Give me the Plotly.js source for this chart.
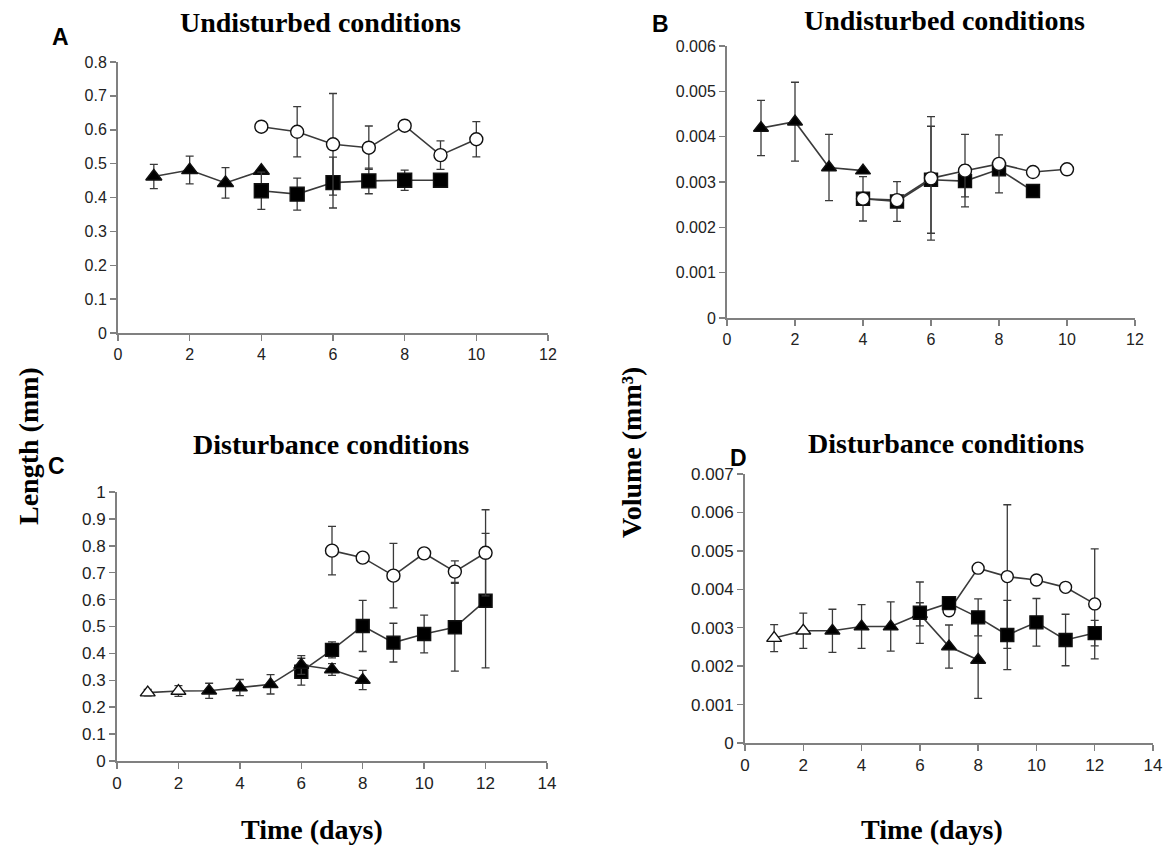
<!DOCTYPE html>
<html>
<head>
<meta charset="utf-8">
<script src="https://cdn.plot.ly/plotly-3.0.1.min.js"></script>
<style>html,body{margin:0;padding:0;background:#fff;}#chart{width:1166px;height:847px;}</style>
</head>
<body>
<div id="chart"></div>
<script>
// ---------- Data ----------
// Panel A: Length, undisturbed
var A_tri_x = [1, 2, 3, 4];
var A_tri_y = [0.462, 0.481, 0.443, 0.479];
var A_tri_e = [0.036, 0.041, 0.045, 0];
var A_sq_x = [4, 5, 6, 7, 8, 9];
var A_sq_y = [0.420, 0.410, 0.444, 0.449, 0.451, 0.451];
var A_sq_e = [0.055, 0.047, 0.075, 0.038, 0.030, 0];
var A_ci_x = [4, 5, 6, 7, 8, 9, 10];
var A_ci_y = [0.609, 0.594, 0.557, 0.547, 0.612, 0.525, 0.572];
var A_ci_e = [0, 0.074, 0.150, 0.064, 0, 0.042, 0.052];

// Panel B: Volume, undisturbed
var B_tri_x = [1, 2, 3, 4];
var B_tri_y = [0.00419, 0.00433, 0.00332, 0.00325];
var B_tri_e = [0.00061, 0.00087, 0.00073, 0];
var B_sq_x = [4, 5, 6, 7, 8, 9];
var B_sq_y = [0.00263, 0.00257, 0.00305, 0.00302, 0.00328, 0.00280];
var B_sq_e = [0.00049, 0.00044, 0.00118, 0.00035, 0, 0];
var B_ci_x = [4, 5, 6, 7, 8, 9, 10];
var B_ci_y = [0.00263, 0.00260, 0.00308, 0.00325, 0.00340, 0.00322, 0.00328];
var B_ci_e = [0, 0, 0.00136, 0.00080, 0.00064, 0, 0];

// Panel C: Length, disturbance
var C_tri_x = [1, 2, 3, 4, 5, 6, 7, 8];
var C_tri_y = [0.254, 0.260, 0.261, 0.273, 0.285, 0.357, 0.340, 0.301];
var C_tri_e = [0.012, 0.020, 0.028, 0.030, 0.036, 0.035, 0.022, 0.036];
var C_sq_x = [6, 7, 8, 9, 10, 11, 12];
var C_sq_y = [0.332, 0.413, 0.502, 0.440, 0.472, 0.497, 0.596];
var C_sq_e = [0.050, 0.030, 0.095, 0.072, 0.070, 0.163, 0.250];
var C_ci_x = [7, 8, 9, 10, 11, 12];
var C_ci_y = [0.782, 0.756, 0.689, 0.772, 0.704, 0.774];
var C_ci_e = [0.090, 0, 0.120, 0, 0.040, 0.160];

// Panel D: Volume, disturbance
var D_tri_x = [1, 2, 3, 4, 5, 6, 7, 8];
var D_tri_y = [0.00273, 0.00292, 0.00292, 0.00303, 0.00303, 0.00335, 0.00251, 0.00216];
var D_tri_e = [0.00035, 0.00046, 0.00056, 0.00057, 0.00064, 0.00030, 0.00056, 0.00100];
var D_sq_x = [6, 7, 8, 9, 10, 11, 12];
var D_sq_y = [0.00339, 0.00364, 0.00327, 0.00281, 0.00314, 0.00268, 0.00286];
var D_sq_e = [0.00080, 0, 0.00048, 0.00090, 0.00062, 0.00067, 0.00033];
var D_ci_x = [7, 8, 9, 10, 11, 12];
var D_ci_y = [0.00344, 0.00455, 0.00433, 0.00424, 0.00405, 0.00362];
var D_ci_e = [0, 0, 0.00187, 0, 0, 0.00143];

// Days on which the triangle series is drawn open (white)
var openTriangleDays = [1, 2];

// ---------- Styling ----------
var W = 1166, H = 847;
function px(x) { return x / W; }
function py(y) { return 1 - y / H; }
var LINE = '#3a3a3a';
var AXIS = '#808080';

function series(xs, ys, es, sym, fill, xa, ya, size) {
  return {
    x: xs, y: ys, xaxis: xa, yaxis: ya,
    type: 'scatter', mode: 'lines+markers', cliponaxis: false,
    line: {color: LINE, width: 1.6},
    marker: {symbol: sym, size: size, color: fill, line: {color: '#111', width: 1.4}},
    error_y: {type: 'data', array: es, visible: true, color: LINE, thickness: 1.3, width: 4},
    showlegend: false, hoverinfo: 'x+y'
  };
}
function triFill(xs) {
  return xs.map(function (d) { return openTriangleDays.indexOf(d) >= 0 ? '#ffffff' : '#000000'; });
}

var traces = [
  // A
  series(A_tri_x, A_tri_y, A_tri_e, 'triangle-up', '#000', 'x', 'y', 14),
  series(A_sq_x, A_sq_y, A_sq_e, 'square', '#000', 'x', 'y', 14),
  series(A_ci_x, A_ci_y, A_ci_e, 'circle', '#fff', 'x', 'y', 13),
  // B
  series(B_tri_x, B_tri_y, B_tri_e, 'triangle-up', '#000', 'x2', 'y2', 13),
  series(B_sq_x, B_sq_y, B_sq_e, 'square', '#000', 'x2', 'y2', 13),
  series(B_ci_x, B_ci_y, B_ci_e, 'circle', '#fff', 'x2', 'y2', 13),
  // C (triangles above squares)
  series(C_sq_x, C_sq_y, C_sq_e, 'square', '#000', 'x3', 'y3', 13),
  series(C_tri_x, C_tri_y, C_tri_e, 'triangle-up', triFill(C_tri_x), 'x3', 'y3', 13),
  series(C_ci_x, C_ci_y, C_ci_e, 'circle', '#fff', 'x3', 'y3', 13),
  // D (squares above triangles)
  series(D_tri_x, D_tri_y, D_tri_e, 'triangle-up', triFill(D_tri_x), 'x4', 'y4', 13),
  series(D_ci_x, D_ci_y, D_ci_e, 'circle', '#fff', 'x4', 'y4', 12),
  series(D_sq_x, D_sq_y, D_sq_e, 'square', '#000', 'x4', 'y4', 13)
];

var tickFontTop = {family: 'Liberation Sans, Arial, sans-serif', size: 16, color: '#222'};
var tickFontBot = {family: 'Liberation Sans, Arial, sans-serif', size: 17, color: '#222'};

function xax(domain, maxv, anchor, font) {
  return {domain: domain, range: [0, maxv], dtick: 2, tick0: 0, anchor: anchor,
    showline: true, linecolor: AXIS, linewidth: 2, ticks: 'outside', ticklen: 6,
    tickwidth: 1.5, tickcolor: AXIS, showgrid: false, zeroline: false,
    tickfont: font, fixedrange: true};
}
function yax(domain, maxv, dt, anchor, font) {
  return {domain: domain, range: [0, maxv], dtick: dt, tick0: 0, anchor: anchor,
    showline: true, linecolor: AXIS, linewidth: 2, ticks: 'outside', ticklen: 6,
    tickwidth: 1.5, tickcolor: AXIS, showgrid: false, zeroline: false,
    tickfont: font, fixedrange: true};
}

var serifBold = {family: 'Liberation Serif, Times New Roman, serif', size: 28, color: '#000', weight: 'bold'};
var letterFont = {family: 'Liberation Sans, Arial, sans-serif', size: 23, color: '#000', weight: 'bold'};

function ann(text, x, y, font, angle) {
  return {text: text, x: px(x), y: py(y), xref: 'paper', yref: 'paper',
    xanchor: 'center', yanchor: 'middle', showarrow: false, font: font, textangle: angle || 0};
}

var layout = {
  width: W, height: H,
  margin: {l: 0, r: 0, t: 0, b: 0},
  paper_bgcolor: '#fff', plot_bgcolor: '#fff',
  xaxis: xax([px(118), px(548)], 12, 'y', tickFontTop),
  yaxis: yax([py(333), py(62)], 0.8, 0.1, 'x', tickFontTop),
  xaxis2: xax([px(727), px(1135)], 12, 'y2', tickFontTop),
  yaxis2: yax([py(318), py(46)], 0.006, 0.001, 'x2', tickFontTop),
  xaxis3: xax([px(117), px(547)], 14, 'y3', tickFontBot),
  yaxis3: yax([py(761), py(492)], 1, 0.1, 'x3', tickFontBot),
  xaxis4: xax([px(745), px(1153)], 14, 'y4', tickFontBot),
  yaxis4: yax([py(743), py(474)], 0.007, 0.001, 'x4', tickFontBot),
  annotations: [
    ann('Undisturbed conditions', 320, 22, serifBold),
    ann('Undisturbed conditions', 944, 20, serifBold),
    ann('Disturbance conditions', 331, 444, serifBold),
    ann('Disturbance conditions', 946, 443, serifBold),
    ann('A', 60, 37, letterFont),
    ann('B', 661, 24, letterFont),
    ann('C', 56, 466, letterFont),
    ann('D', 738, 458, letterFont),
    ann('Length (mm)', 28, 446, serifBold, -90),
    ann('Volume (mm³)', 631, 453, serifBold, -90),
    ann('Time (days)', 312, 829, serifBold),
    ann('Time (days)', 932, 829, serifBold)
  ]
};

Plotly.newPlot('chart', traces, layout, {displayModeBar: false, staticPlot: true});
</script>
</body>
</html>
